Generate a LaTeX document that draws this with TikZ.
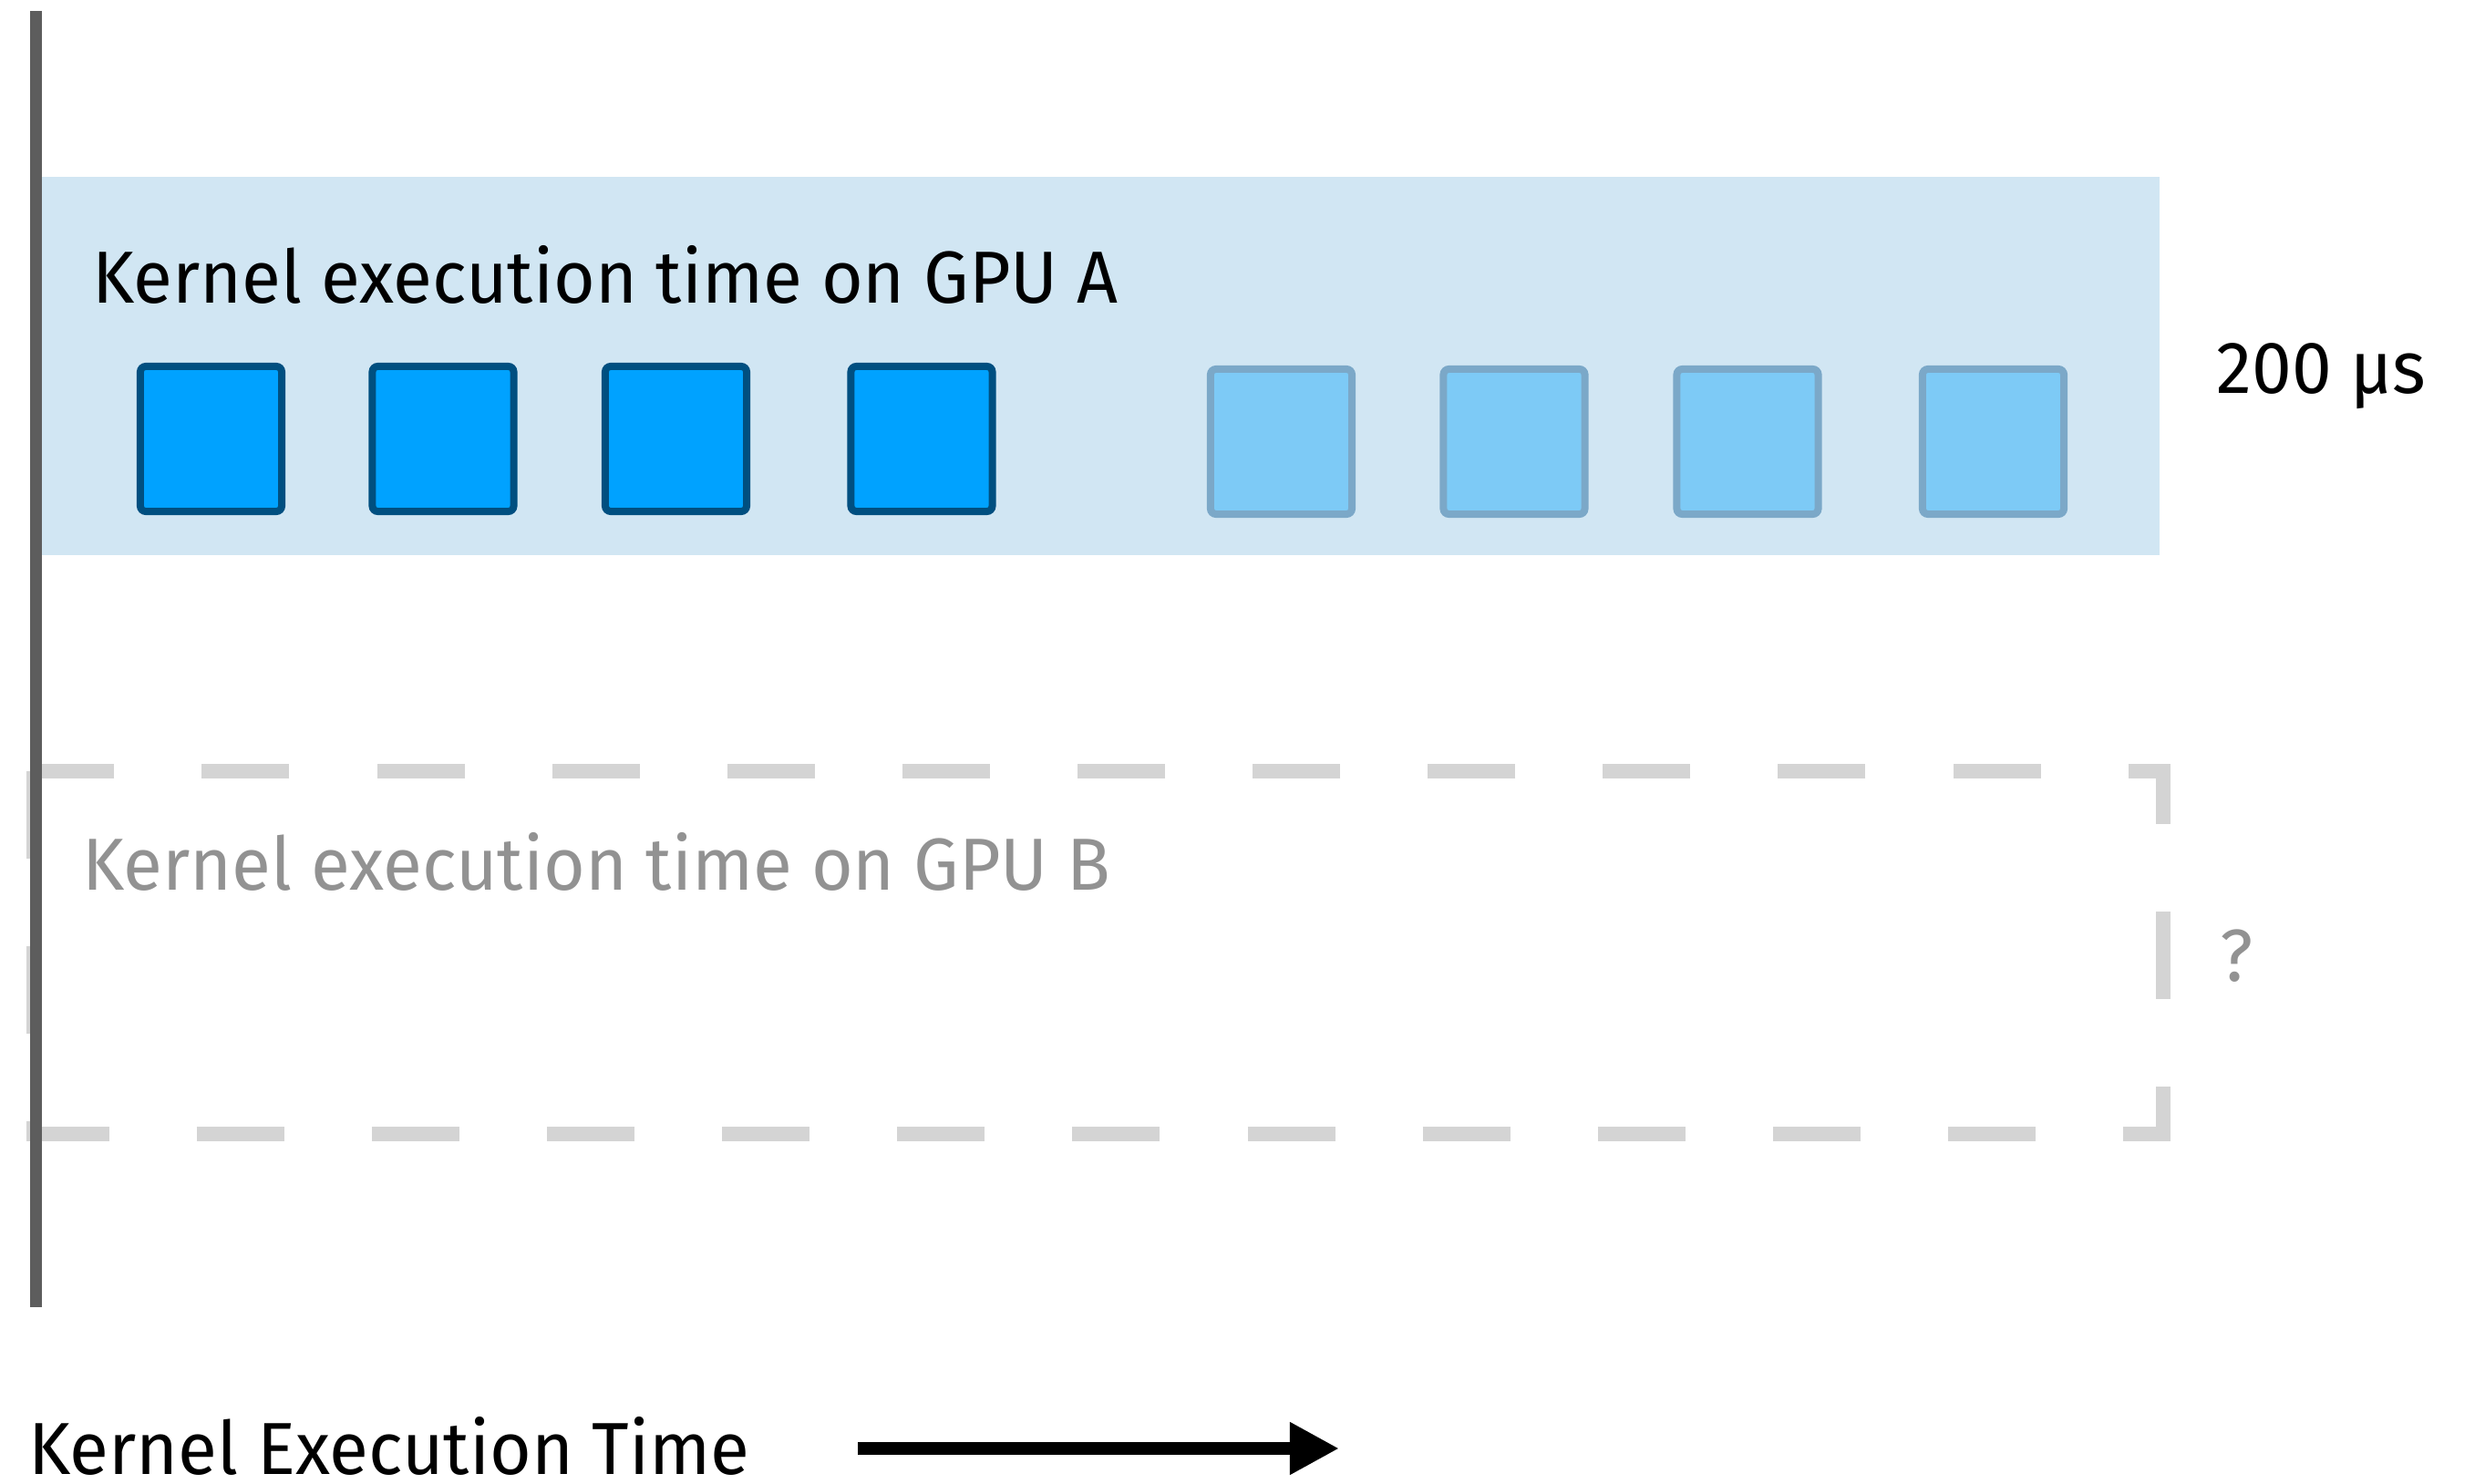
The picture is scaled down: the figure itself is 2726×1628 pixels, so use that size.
\documentclass[tikz,border=0pt]{standalone}
\usepackage{fontspec}
\setmainfont{Fira Sans}[FakeStretch=0.97]
\usetikzlibrary{arrows.meta}
\definecolor{band}{HTML}{D1E6F3}
\definecolor{axisc}{HTML}{5D5D5D}
\definecolor{dashc}{HTML}{D4D4D4}
\definecolor{graytxt}{HTML}{929292}
\definecolor{darkfill}{HTML}{00A2FF}
\definecolor{darkline}{HTML}{004F80}
\definecolor{lightfill}{HTML}{7DCAF6}
\definecolor{lightline}{HTML}{7BA8C8}
\tikzset{
  sqbase/.style={rectangle, rounded corners=0.06cm, line width=0.08cm,
    minimum width=1.55cm, minimum height=1.59cm, inner sep=0pt},
  darksq/.style={sqbase, draw=darkline, fill=darkfill},
  lightsq/.style={sqbase, draw=lightline, fill=lightfill},
  lbl/.style={anchor=base west, inner sep=0pt, font=\fontsize{23}{27}\selectfont},
}
\begin{document}
\begin{tikzpicture}[x=0.01cm, y=-0.01cm]
\useasboundingbox[fill=white] (0,0) rectangle (2726,1628);
% band for GPU A
\fill[band] (45,194) rectangle (2369,609);
% dashed box for GPU B
\draw[dashc, line width=0.16cm, dash pattern=on 0.96cm off 0.96cm, line cap=butt, line join=miter]
  (37.5,846) rectangle (2373,1244);
% axis
\coordinate (axtop) at (39.5,12);
\coordinate (axbot) at (39.5,1434);
\draw[axisc, line width=0.13cm] (axtop) -- (axbot);
% labels
\node[lbl] (ta) at (101,333) {Kernel execution time on GPU A};
\node[lbl] (tus) at (2431,432) {200 µs};
\node[lbl, text=graytxt] (tb) at (90,977) {Kernel execution time on GPU B};
\node[lbl, text=graytxt] (tq) at (2435,1077) {?};
\node[lbl] (tx) at (31,1617) {Kernel Execution Time};
% squares
\node[darksq] (d1) at (231.5,481.5) {};
\node[darksq] (d2) at (486,481.5) {};
\node[darksq] (d3) at (741.5,481.5) {};
\node[darksq] (d4) at (1011,481.5) {};
\node[lightsq] (l1) at (1405.5,484.5) {};
\node[lightsq] (l2) at (1661,484.5) {};
\node[lightsq] (l3) at (1917,484.5) {};
\node[lightsq] (l4) at (2186.5,484.5) {};
% arrow
\coordinate (as) at (941,1589);
\coordinate (ae) at (1469,1589);
\draw[black, line width=0.14cm, -{Triangle[length=0.54cm, width=0.54cm]}] (as) -- (ae);
\end{tikzpicture}
\end{document}
